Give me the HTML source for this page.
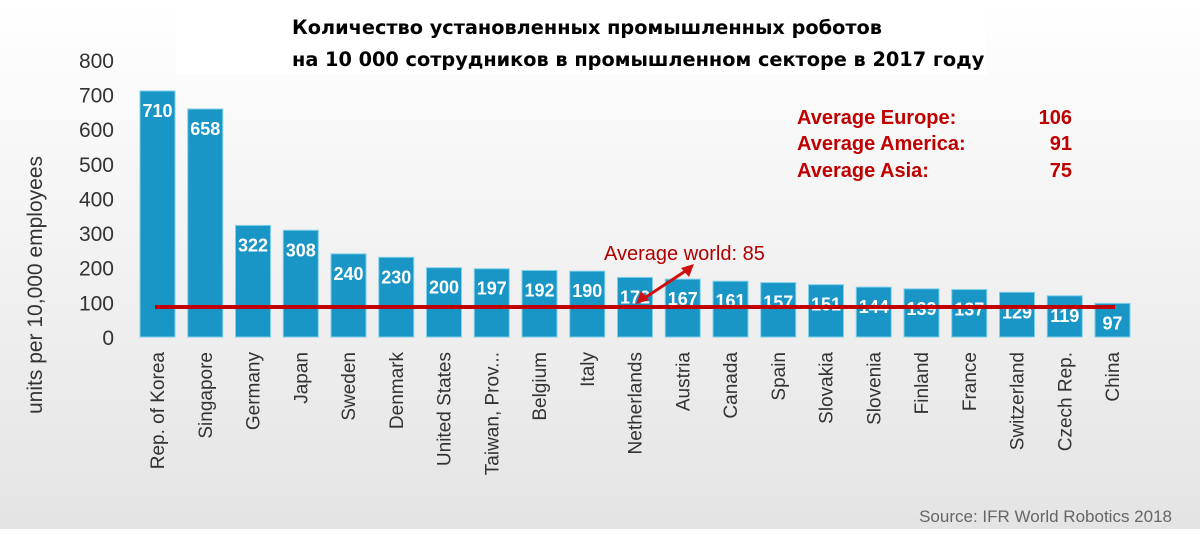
<!DOCTYPE html>
<html><head><meta charset="utf-8"><style>
body{margin:0;width:1200px;height:529px;overflow:hidden;font-family:"Liberation Sans",sans-serif}
</style></head><body>
<svg width="1200" height="529">
<defs><linearGradient id="bg" x1="0" y1="0" x2="0" y2="1"><stop offset="0" stop-color="#ffffff"/><stop offset="1" stop-color="#e4e4e4"/></linearGradient></defs>
<rect width="1200" height="529" fill="url(#bg)"/>
<rect x="176" y="5" width="810" height="70" fill="#fff"/>
<text x="292" y="34" font-family="DejaVu Sans, sans-serif" font-weight="bold" font-size="19.3" fill="#000">Количество установленных промышленных роботов</text>
<text x="292" y="66" font-family="DejaVu Sans, sans-serif" font-weight="bold" font-size="19.3" fill="#000">на 10 000 сотрудников в промышленном секторе в 2017 году</text>
<text transform="translate(42,285) rotate(-90)" text-anchor="middle" font-size="21" fill="#333">units per 10,000 employees</text>
<g id="yt"></g><g id="bars"></g><g id="xl"></g>
<line x1="155" y1="307" x2="1115" y2="307" stroke="#c00000" stroke-width="4"/>
<line x1="640" y1="301" x2="690" y2="268" stroke="#d01010" stroke-width="3"/>
<polygon points="694,264 681,268 689,277" fill="#d01010"/>
<polygon points="636,304 649,300 641,291" fill="#d01010"/>
<text x="604" y="260" font-size="20" fill="#b00000">Average world: 85</text>
<g font-size="20" font-weight="bold" fill="#c00000">
<text x="797" y="124">Average Europe:</text><text x="1072" y="124" text-anchor="end">106</text>
<text x="797" y="150">Average America:</text><text x="1072" y="150" text-anchor="end">91</text>
<text x="797" y="177">Average Asia:</text><text x="1072" y="177" text-anchor="end">75</text>
</g>
<text x="1172" y="522" text-anchor="end" font-size="17" fill="#666">Source: IFR World Robotics 2018</text>
</svg>
<script>
const categories=["Rep. of Korea","Singapore","Germany","Japan","Sweden","Denmark","United States","Taiwan, Prov...","Belgium","Italy","Netherlands","Austria","Canada","Spain","Slovakia","Slovenia","Finland","France","Switzerland","Czech Rep.","China"];
const values=[710,658,322,308,240,230,200,197,192,190,172,167,161,157,151,144,139,137,129,119,97];
const yTicks=[0,100,200,300,400,500,600,700,800];
const NS="http://www.w3.org/2000/svg";
const y=v=>337-v*0.3465;
const n=categories.length, x0=140;
const xs=i=>x0+i*((1130-35-x0)/(n-1));
function mk(t,a,p){const e=document.createElementNS(NS,t);for(const k in a)e.setAttribute(k,a[k]);p.appendChild(e);return e;}
const yt=document.getElementById('yt');
yTicks.forEach(v=>{const t=mk('text',{x:114,y:y(v)+8,'text-anchor':'end','font-size':21,fill:'#333'},yt);t.textContent=v;

});
const bars=document.getElementById('bars'),xl=document.getElementById('xl');
values.forEach((v,i)=>{const bx=xs(i);
const r=mk('rect',{x:bx,y:y(v),width:35,height:y(0)-y(v),fill:'#1a96c6',stroke:'#7fd0ea','stroke-width':1},bars);


const t=mk('text',{x:bx+17.5,y:y(v)+26,'text-anchor':'middle','font-size':18,'font-weight':'bold',fill:'#fff'},bars);t.textContent=v;


const l=mk('text',{transform:`translate(${bx+24},352) rotate(-90)`,'text-anchor':'end','font-size':19,fill:'#333'},xl);l.textContent=categories[i];

});
</script>
</body></html>
